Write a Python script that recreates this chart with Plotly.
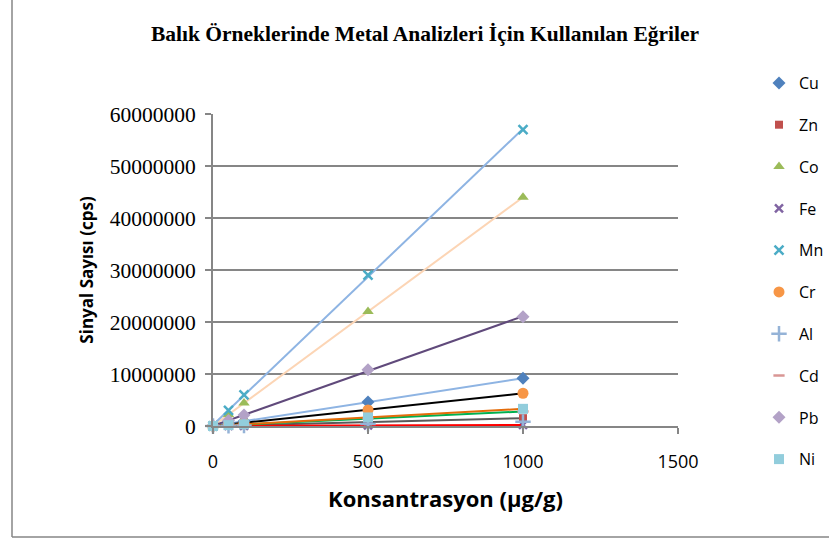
import numpy as np
import plotly.graph_objects as go

# Concentration levels (µg/g)
konsantrasyon = [0, 50, 100, 500, 1000]

# Signal counts (cps) per metal
cu = [0, 460000, 920000, 4600000, 9200000]
zn = [0, 75000, 150000, 750000, 1500000]
co = [0, 2200000, 4400000, 22000000, 44000000]
fe = [0, 10000, 20000, 100000, 200000]
mn = [0, 3000000, 6000000, 29000000, 57000000]
cr = [0, 310000, 620000, 3100000, 6300000]
al = [0, 40000, 80000, 400000, 800000]
cd = [0, 140000, 280000, 1400000, 2800000]
pb = [0, 1050000, 2100000, 10800000, 21000000]
ni = [0, 165000, 330000, 1650000, 3300000]

series = [
    # name, values, marker symbol, marker colour, size, trendline colour
    ("Cu", cu, "diamond", "#4F81BD", 10, "#8EB4E3"),
    ("Zn", zn, "square", "#C0504D", 8, "#595959"),
    ("Co", co, "triangle-up", "#9BBB59", 10, "#FCD5B5"),
    ("Fe", fe, "x-thin", "#8064A2", 8, "#FF0000"),
    ("Mn", mn, "x-thin", "#4BACC6", 9, "#8EB4E3"),
    ("Cr", cr, "circle", "#F79646", 11, "#000000"),
    ("Al", al, "cross-thin", "#95B3D7", 11, None),
    ("Cd", cd, "line-ew", "#D99694", 8, "#00B050"),
    ("Pb", pb, "diamond", "#B3A2C7", 10, "#604A7B"),
    ("Ni", ni, "square", "#92CDDC", 10, "#E46C0A"),
]

fig = go.Figure()

# Linear trendlines (least-squares fit of each series), drawn under the markers
xfit = np.array([0, 1000])
for name, vals, sym, col, size, tcol in series:
    if tcol is None:
        continue
    slope, icpt = np.polyfit(konsantrasyon, vals, 1)
    fig.add_trace(go.Scatter(
        x=xfit, y=slope * xfit + icpt, mode="lines",
        line=dict(color=tcol, width=2), showlegend=False,
        hoverinfo="skip", cliponaxis=False,
    ))

for name, vals, sym, col, size, tcol in series:
    thin = sym in ("x-thin", "cross-thin", "line-ew")
    fig.add_trace(go.Scatter(
        x=konsantrasyon, y=vals, mode="markers", name=name,
        legendgroup=name,
        marker=dict(
            symbol=sym, size=size, color=col,
            line=dict(color=col, width=2.5 if thin else 0),
        ),
        cliponaxis=False,
    ))

axis_grey = "#868686"
px_x = lambda p: (p - 213) / 465   # pixel column -> paper x
px_y = lambda p: (426 - p) / 312   # pixel row -> paper y

fig.update_layout(
    width=829, height=540,
    margin=dict(l=213, r=151, t=114, b=114, autoexpand=False),
    paper_bgcolor="white", plot_bgcolor="white",
    title=dict(
        text="Balık Örneklerinde Metal Analizleri İçin Kullanılan Eğriler",
        font=dict(family="Liberation Serif", size=21.5, color="black", weight="bold"),
        x=px_x(425), xanchor="center", xref="paper", y=1 - 33 / 540, yanchor="middle",
    ),
    xaxis=dict(
        range=[0, 1500], tickvals=[0, 500, 1000, 1500],
        showgrid=False, zeroline=False,
        showline=True, linecolor=axis_grey, linewidth=2,
        ticks="outside", ticklen=6, tickcolor=axis_grey, tickwidth=2,
        tickfont=dict(family="Open Sans", size=18, color="black"),
        ticklabelstandoff=12,
        title=dict(text="Konsantrasyon (µg/g)", standoff=20,
                   font=dict(family="Open Sans", size=22, color="black", weight="bold")),
    ),
    yaxis=dict(
        range=[0, 60000000], dtick=10000000, tickformat="d",
        showgrid=True, gridcolor=axis_grey, gridwidth=2,
        zeroline=False,
        showline=True, linecolor=axis_grey, linewidth=2,
        ticks="outside", ticklen=6, tickcolor=axis_grey, tickwidth=2,
        tickfont=dict(family="Liberation Serif", size=21.5, color="black"),
        ticklabelstandoff=5,
        title=dict(text="Sinyal Sayısı (cps)", standoff=12,
                   font=dict(family="Open Sans", size=17, color="black", weight="bold")),
    ),
    legend=dict(
        x=px_x(759), xanchor="left", y=px_y(66), yanchor="top",
        font=dict(family="Open Sans", size=16, color="black"),
        tracegroupgap=18, itemwidth=30, maxheight=500,
        bgcolor="rgba(0,0,0,0)",
    ),
    shapes=[
        dict(type="line", xref="paper", yref="paper",
             x0=px_x(12), x1=px_x(12), y0=px_y(537), y1=px_y(-2),
             line=dict(color=axis_grey, width=1.5), layer="below"),
        dict(type="line", xref="paper", yref="paper",
             x0=px_x(12), x1=px_x(832), y0=px_y(537), y1=px_y(537),
             line=dict(color=axis_grey, width=1.5), layer="below"),
    ],
)

fig.write_html("out.html")
